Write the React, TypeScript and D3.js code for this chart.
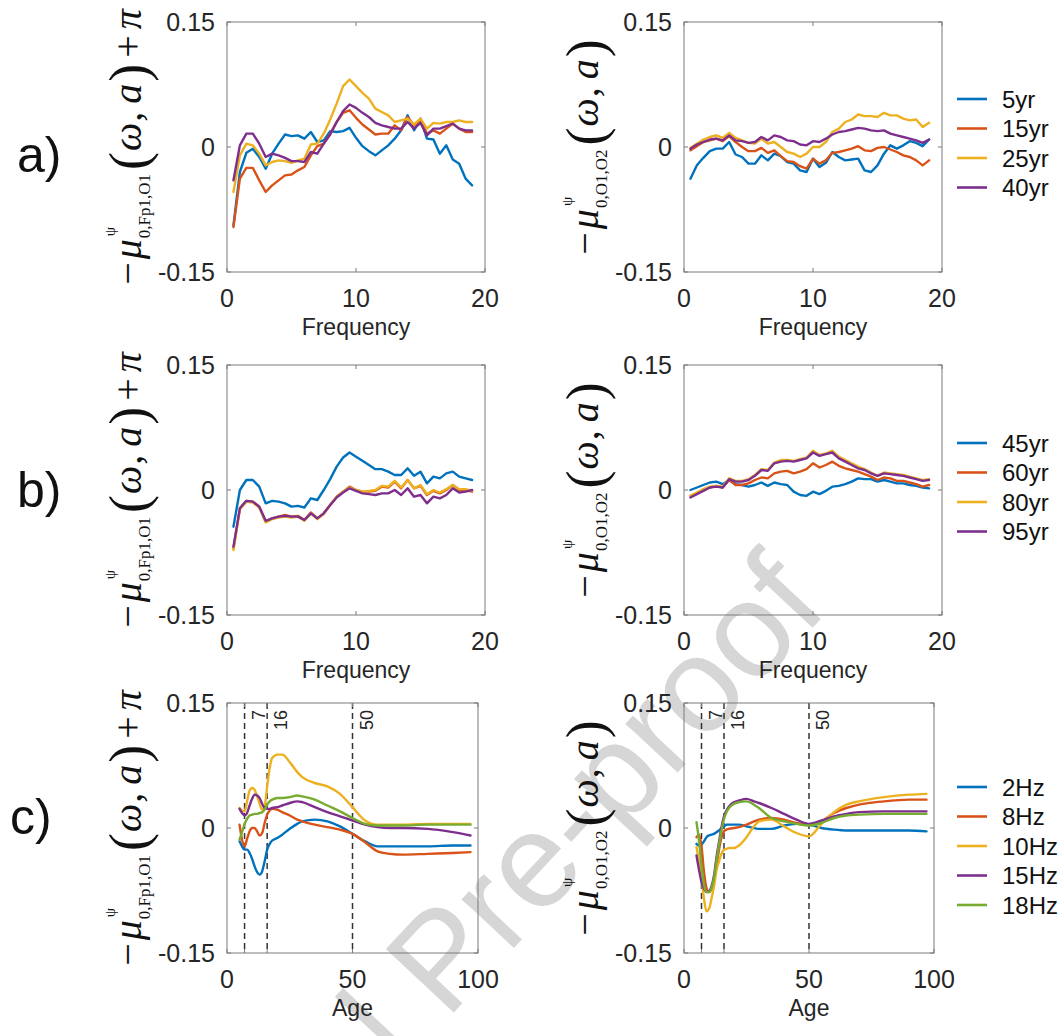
import React, { useEffect, useRef } from "react";
import * as d3 from "d3";

const W = 1063;
const H = 1036;
const COLORS = ["#0072BD", "#D95319", "#EDB120", "#7E2F8E", "#77AC30"];
const SANS = "'Liberation Sans', Arial, Helvetica, sans-serif";
const SERIF = "'Liberation Serif', 'Times New Roman', 'DejaVu Serif', serif";

// ---------- data ----------
const freq = [0.5, 1, 1.5, 2, 2.5, 3, 3.5, 4, 4.5, 5, 5.5, 6, 6.5, 7, 7.5, 8, 8.5, 9, 9.5, 10, 10.5, 11, 11.5, 12, 12.5, 13, 13.5, 14, 14.5, 15, 15.5, 16, 16.5, 17, 17.5, 18, 18.5, 19];
const ages = [5, 6, 7, 8, 9, 10, 11, 12, 13, 14, 15, 16, 17, 18, 20, 22, 25, 28, 30, 35, 40, 45, 50, 55, 60, 65, 70, 80, 90, 97];

// a) Fp1,O1
const aFp5 = [-0.094, -0.03, -0.007, -0.002, -0.012, -0.026, -0.008, 0.004, 0.015, 0.013, 0.014, 0.01, 0.018, 0.006, 0.008, 0.019, 0.018, 0.019, 0.023, 0.011, 0.001, -0.005, -0.01, -0.004, 0.002, 0.01, 0.02, 0.038, 0.02, 0.034, 0.01, 0.009, -0.008, 0.002, -0.015, -0.02, -0.038, -0.046];
const aFp15 = [-0.096, -0.038, -0.025, -0.025, -0.04, -0.054, -0.046, -0.04, -0.034, -0.033, -0.028, -0.024, -0.01, 0.001, 0.004, 0.016, 0.03, 0.041, 0.044, 0.035, 0.027, 0.021, 0.015, 0.016, 0.016, 0.026, 0.02, 0.036, 0.026, 0.032, 0.016, 0.02, 0.016, 0.022, 0.028, 0.022, 0.018, 0.018];
const aFp25 = [-0.054, -0.01, 0.004, 0.002, -0.008, -0.022, -0.018, -0.016, -0.017, -0.019, -0.016, -0.014, 0.003, 0.004, 0.016, 0.033, 0.052, 0.073, 0.081, 0.073, 0.065, 0.058, 0.046, 0.042, 0.038, 0.03, 0.032, 0.034, 0.027, 0.034, 0.022, 0.029, 0.028, 0.03, 0.03, 0.032, 0.03, 0.03];
const aFp40 = [-0.04, 0.002, 0.016, 0.016, 0.004, -0.012, -0.008, -0.01, -0.013, -0.017, -0.017, -0.018, -0.006, -0.008, 0.004, 0.015, 0.03, 0.043, 0.051, 0.047, 0.041, 0.036, 0.029, 0.026, 0.024, 0.022, 0.022, 0.03, 0.022, 0.029, 0.014, 0.022, 0.022, 0.025, 0.028, 0.022, 0.02, 0.02];
// a) O1,O2
const aO5 = [-0.038, -0.022, -0.013, -0.005, -0.002, -0.002, 0.006, -0.009, -0.012, -0.02, -0.02, -0.01, -0.016, -0.008, -0.011, -0.018, -0.02, -0.028, -0.03, -0.014, -0.024, -0.019, -0.006, -0.012, -0.016, -0.015, -0.014, -0.028, -0.03, -0.022, -0.008, 0.002, -0.002, 0.002, 0.007, 0.005, 0.001, 0.009];
const aO15 = [-0.004, 0.001, 0.006, 0.008, 0.01, 0.007, 0.013, 0.006, 0, -0.005, -0.005, -0.001, -0.007, -0.004, -0.011, -0.017, -0.018, -0.023, -0.026, -0.014, -0.02, -0.016, -0.007, -0.006, -0.004, -0.002, 0.001, -0.004, -0.005, -0.001, 0, -0.003, -0.006, -0.01, -0.012, -0.016, -0.022, -0.016];
const aO25 = [-0.001, 0.004, 0.009, 0.012, 0.014, 0.011, 0.017, 0.011, 0.008, 0.005, 0.004, 0.01, 0.004, 0.006, 0, -0.006, -0.008, -0.012, -0.008, 0, 0, 0.006, 0.018, 0.022, 0.03, 0.033, 0.039, 0.037, 0.037, 0.036, 0.041, 0.038, 0.038, 0.034, 0.032, 0.033, 0.024, 0.029];
const aO40 = [-0.002, 0.003, 0.006, 0.009, 0.01, 0.008, 0.014, 0.008, 0.007, 0.005, 0.006, 0.012, 0.008, 0.014, 0.012, 0.008, 0.007, 0.003, 0.002, 0.007, 0.006, 0.01, 0.015, 0.018, 0.019, 0.021, 0.023, 0.022, 0.02, 0.019, 0.02, 0.016, 0.014, 0.012, 0.01, 0.008, 0.005, 0.009];
// b) Fp1,O1
const bFp45 = [-0.044, 0, 0.012, 0.012, 0.004, -0.016, -0.013, -0.014, -0.016, -0.02, -0.019, -0.021, -0.01, -0.012, 0, 0.013, 0.028, 0.039, 0.045, 0.04, 0.035, 0.03, 0.025, 0.025, 0.022, 0.018, 0.018, 0.026, 0.017, 0.022, 0.008, 0.016, 0.014, 0.02, 0.022, 0.016, 0.014, 0.012];
const bFp60 = [-0.07, -0.022, -0.013, -0.014, -0.02, -0.038, -0.034, -0.032, -0.03, -0.032, -0.031, -0.036, -0.027, -0.034, -0.028, -0.018, -0.008, -0.002, 0.004, 0, -0.002, -0.002, -0.001, 0.004, 0.003, 0.01, 0.002, 0.012, 0.002, 0.005, -0.006, -0.001, -0.004, 0, 0.006, 0, 0, -0.002];
const bFp80 = [-0.072, -0.023, -0.014, -0.015, -0.021, -0.039, -0.035, -0.033, -0.032, -0.033, -0.032, -0.037, -0.028, -0.035, -0.029, -0.018, -0.008, -0.002, 0.003, 0, -0.002, -0.001, 0, 0.005, 0.004, 0.011, 0.003, 0.012, 0.002, 0.006, -0.005, 0, -0.003, 0.001, 0.006, 0.001, 0.001, -0.001];
const bFp95 = [-0.068, -0.022, -0.013, -0.014, -0.02, -0.037, -0.034, -0.032, -0.031, -0.032, -0.032, -0.036, -0.028, -0.034, -0.028, -0.018, -0.009, -0.003, 0.002, -0.001, -0.004, -0.005, -0.006, -0.004, -0.004, 0, -0.006, 0.002, -0.008, -0.006, -0.016, -0.008, -0.01, -0.006, 0.002, -0.003, -0.002, 0];
// b) O1,O2
const bO45 = [0, 0.003, 0.006, 0.009, 0.01, 0.007, 0.012, 0.007, 0.006, 0.004, 0.006, 0.009, 0.005, 0.009, 0.007, 0.006, -0.002, -0.006, -0.007, -0.002, -0.005, -0.001, 0.004, 0.005, 0.007, 0.01, 0.014, 0.013, 0.013, 0.01, 0.012, 0.01, 0.008, 0.008, 0.006, 0.005, 0.003, 0.002];
const bO60 = [-0.007, -0.004, 0, 0.003, 0.005, 0.003, 0.012, 0.006, 0.006, 0.008, 0.012, 0.015, 0.014, 0.02, 0.022, 0.023, 0.02, 0.022, 0.025, 0.032, 0.027, 0.03, 0.034, 0.029, 0.026, 0.024, 0.022, 0.019, 0.016, 0.012, 0.015, 0.014, 0.011, 0.011, 0.009, 0.007, 0.004, 0.006];
const bO80 = [-0.007, -0.003, 0.001, 0.004, 0.005, 0.004, 0.014, 0.011, 0.011, 0.013, 0.018, 0.025, 0.024, 0.033, 0.036, 0.036, 0.035, 0.037, 0.039, 0.047, 0.042, 0.044, 0.047, 0.04, 0.036, 0.032, 0.028, 0.025, 0.021, 0.017, 0.021, 0.02, 0.019, 0.018, 0.016, 0.014, 0.012, 0.013];
const bO95 = [-0.009, -0.005, -0.001, 0.003, 0.004, 0.003, 0.013, 0.01, 0.01, 0.012, 0.017, 0.024, 0.023, 0.032, 0.034, 0.035, 0.034, 0.036, 0.038, 0.045, 0.041, 0.043, 0.045, 0.038, 0.034, 0.03, 0.026, 0.024, 0.02, 0.017, 0.02, 0.019, 0.018, 0.017, 0.015, 0.013, 0.011, 0.012];
// c) Fp1,O1 vs age
const cFp2 = [-0.016, -0.022, -0.026, -0.026, -0.03, -0.037, -0.046, -0.053, -0.056, -0.052, -0.04, -0.026, -0.019, -0.015, -0.012, -0.008, -0.001, 0.005, 0.008, 0.01, 0.008, 0.002, -0.007, -0.016, -0.022, -0.022, -0.022, -0.022, -0.021, -0.021];
const cFp8 = [0.004, -0.014, -0.022, -0.013, -0.004, 0, 0, -0.004, -0.009, -0.006, 0.006, 0.016, 0.021, 0.023, 0.022, 0.019, 0.015, 0.01, 0.008, 0.004, 0.001, -0.002, -0.007, -0.017, -0.028, -0.031, -0.032, -0.031, -0.03, -0.029];
const cFp10 = [0.024, 0.021, 0.02, 0.032, 0.045, 0.048, 0.046, 0.038, 0.029, 0.022, 0.026, 0.05, 0.072, 0.084, 0.088, 0.088, 0.079, 0.067, 0.061, 0.054, 0.05, 0.041, 0.025, 0.009, 0.004, 0.004, 0.004, 0.005, 0.005, 0.005];
const cFp15 = [0.023, 0.018, 0.015, 0.018, 0.027, 0.035, 0.04, 0.039, 0.036, 0.029, 0.024, 0.023, 0.023, 0.024, 0.025, 0.027, 0.03, 0.032, 0.031, 0.025, 0.019, 0.014, 0.009, 0.004, 0.001, 0, 0, -0.001, -0.005, -0.009];
const cFp18 = [-0.014, -0.005, 0.005, 0.011, 0.015, 0.016, 0.017, 0.017, 0.018, 0.019, 0.022, 0.028, 0.032, 0.034, 0.036, 0.036, 0.037, 0.039, 0.038, 0.034, 0.027, 0.02, 0.012, 0.005, 0.003, 0.003, 0.003, 0.004, 0.004, 0.004];
// c) O1,O2 vs age
const cO2 = [-0.019, -0.021, -0.02, -0.016, -0.011, -0.009, -0.008, -0.007, -0.005, -0.003, 0, 0.002, 0.004, 0.004, 0.004, 0.004, 0.002, 0, -0.001, -0.001, 0.003, 0.005, 0.004, 0, -0.002, -0.003, -0.003, -0.003, -0.003, -0.004];
const cO8 = [-0.011, -0.008, -0.022, -0.053, -0.072, -0.077, -0.073, -0.062, -0.045, -0.026, -0.011, -0.004, -0.002, -0.001, 0, 0.001, 0.004, 0.008, 0.01, 0.012, 0.01, 0.006, 0.004, 0.008, 0.018, 0.024, 0.028, 0.032, 0.034, 0.034];
const cO10 = [-0.023, -0.04, -0.059, -0.085, -0.1, -0.097, -0.085, -0.07, -0.051, -0.04, -0.031, -0.026, -0.025, -0.024, -0.024, -0.021, -0.011, 0.002, 0.008, 0.01, 0.002, -0.006, -0.01, 0.005, 0.019, 0.028, 0.032, 0.037, 0.04, 0.041];
const cO15 = [-0.033, -0.05, -0.065, -0.073, -0.077, -0.076, -0.07, -0.057, -0.035, -0.017, 0.001, 0.014, 0.021, 0.026, 0.031, 0.033, 0.035, 0.032, 0.03, 0.024, 0.017, 0.01, 0.005, 0.009, 0.014, 0.017, 0.019, 0.02, 0.02, 0.02];
const cO18 = [0.007, -0.015, -0.045, -0.068, -0.077, -0.077, -0.072, -0.06, -0.039, -0.02, -0.003, 0.011, 0.019, 0.024, 0.029, 0.031, 0.032, 0.028, 0.024, 0.012, 0.008, 0.005, 0.003, 0.006, 0.012, 0.015, 0.016, 0.017, 0.017, 0.017];

const legendA = ["5yr", "15yr", "25yr", "40yr"];
const legendB = ["45yr", "60yr", "80yr", "95yr"];
const legendC = ["2Hz", "8Hz", "10Hz", "15Hz", "18Hz"];
const yTicks = [-0.15, 0, 0.15];
const yTickLabels = ["-0.15", "0", "0.15"];
const freqTicks = [0, 10, 20];
const freqTickLabels = ["0", "10", "20"];
const ageTickMarks = [0, 7, 16, 50, 100];
const ageTickLabels = [0, 50, 100];
const ageMarkers = [7, 16, 50];
const panelLetters = ["a)", "b)", "c)"];

// ---------- layout ----------
type Panel = {
  left: number; right: number; top: number; bottom: number;
  xDomain: [number, number]; xVals: number[]; series: number[][];
  xTickMarks: number[]; xTickLabels: number[]; xTickText: string[];
  xLabel: string; sub: string; withPi: boolean; smooth: boolean; markers?: number[];
};

const ROWS = [
  { top: 22, bottom: 272 },
  { top: 365, bottom: 615 },
  { top: 703, bottom: 953 },
];

const panels: Panel[] = [
  { left: 227, right: 485, ...ROWS[0], xDomain: [0, 20], xVals: freq, series: [aFp5, aFp15, aFp25, aFp40], xTickMarks: freqTicks, xTickLabels: freqTicks, xTickText: freqTickLabels, xLabel: "Frequency", sub: "0,Fp1,O1", withPi: true, smooth: false },
  { left: 684, right: 942, ...ROWS[0], xDomain: [0, 20], xVals: freq, series: [aO5, aO15, aO25, aO40], xTickMarks: freqTicks, xTickLabels: freqTicks, xTickText: freqTickLabels, xLabel: "Frequency", sub: "0,O1,O2", withPi: false, smooth: false },
  { left: 227, right: 485, ...ROWS[1], xDomain: [0, 20], xVals: freq, series: [bFp45, bFp60, bFp80, bFp95], xTickMarks: freqTicks, xTickLabels: freqTicks, xTickText: freqTickLabels, xLabel: "Frequency", sub: "0,Fp1,O1", withPi: true, smooth: false },
  { left: 684, right: 942, ...ROWS[1], xDomain: [0, 20], xVals: freq, series: [bO45, bO60, bO80, bO95], xTickMarks: freqTicks, xTickLabels: freqTicks, xTickText: freqTickLabels, xLabel: "Frequency", sub: "0,O1,O2", withPi: false, smooth: false },
  { left: 227, right: 478, ...ROWS[2], xDomain: [0, 100], xVals: ages, series: [cFp2, cFp8, cFp10, cFp15, cFp18], xTickMarks: ageTickMarks, xTickLabels: ageTickLabels, xTickText: ageTickLabels.map(String), xLabel: "Age", sub: "0,Fp1,O1", withPi: true, smooth: true, markers: ageMarkers },
  { left: 684, right: 934, ...ROWS[2], xDomain: [0, 100], xVals: ages, series: [cO2, cO8, cO10, cO15, cO18], xTickMarks: ageTickMarks, xTickLabels: ageTickLabels, xTickText: ageTickLabels.map(String), xLabel: "Age", sub: "0,O1,O2", withPi: false, smooth: true, markers: ageMarkers },
];

const legends = [
  { names: legendA, y0: 99 },
  { names: legendB, y0: 443 },
  { names: legendC, y0: 787 },
];

const letterPos = [
  { x: 17, y: 172 },
  { x: 17, y: 507 },
  { x: 10, y: 834 },
];

function mathLabel(svg: any, bx: number, cy: number, sub: string, withPi: boolean) {
  const grp = svg.append("g").attr("transform", `translate(${bx},${cy}) rotate(-90)`);
  const inner = grp.append("g");
  const F = 40;
  let x = 0;
  const add = (txt: string, size: number, italic: boolean, dy = 0, at = x) =>
    inner.append("text").attr("x", at).attr("y", dy).attr("font-size", size)
      .attr("font-style", italic ? "italic" : "normal").attr("font-family", SERIF)
      .attr("fill", "#111").text(txt);
  const w = (t: any) => (t.node() as SVGTextElement).getComputedTextLength();
  let t = add("\u2212", F, false); x += w(t) + 3;
  t = add("\u03bc", F, true); x += w(t) + 1;
  const sup = add("\u03c8", 15, false, -26, x + 2);
  const sb = add(sub, 17, false, 9, x);
  x += Math.max(w(sup) + 2, w(sb)) + 4;
  t = add("(", 54, false, 6); x += w(t) + 1;
  t = add("\u03c9", F, true); x += w(t) + 1;
  t = add(",", F, false); x += w(t) + 8;
  t = add("a", F, true); x += w(t) + 2;
  t = add(")", 54, false, 6); x += w(t);
  if (withPi) {
    x += 6;
    t = add("+", F, false); x += w(t) + 6;
    t = add("\u03c0", F, true); x += w(t);
  }
  inner.attr("transform", `translate(${-x / 2},0)`);
}

function drawPanel(svg: any, p: Panel) {
  const x = d3.scaleLinear().domain(p.xDomain).range([p.left, p.right]);
  const y = d3.scaleLinear().domain([-0.15, 0.15]).range([p.bottom, p.top]);
  const g = svg.append("g");
  if (p.markers) {
    p.markers.forEach((m) => {
      g.append("line").attr("x1", x(m)).attr("x2", x(m)).attr("y1", p.top).attr("y2", p.bottom)
        .attr("stroke", "#333").attr("stroke-width", 1.5).attr("stroke-dasharray", "6,4");
      g.append("text").attr("transform", `translate(${x(m) + 20},${p.top + 7}) rotate(-90)`)
        .attr("text-anchor", "end").attr("font-size", 18).attr("font-family", SANS).attr("fill", "#262626").text(String(m));
    });
  }
  const line = d3.line<number>()
    .x((_d, i) => x(p.xVals[i]))
    .y((d) => y(d))
    .curve(p.smooth ? d3.curveMonotoneX : d3.curveLinear);
  p.series.forEach((s, i) => {
    g.append("path").attr("d", line(s)).attr("fill", "none").attr("stroke", COLORS[i])
      .attr("stroke-width", 2.4).attr("stroke-linejoin", "round").attr("stroke-linecap", "round");
  });
  g.append("rect").attr("x", p.left).attr("y", p.top).attr("width", p.right - p.left).attr("height", p.bottom - p.top)
    .attr("fill", "none").attr("stroke", "#7a7a7a").attr("stroke-width", 1);
  const tl = 4;
  p.xTickMarks.forEach((v) => {
    g.append("line").attr("x1", x(v)).attr("x2", x(v)).attr("y1", p.bottom).attr("y2", p.bottom - tl).attr("stroke", "#7a7a7a");
    g.append("line").attr("x1", x(v)).attr("x2", x(v)).attr("y1", p.top).attr("y2", p.top + tl).attr("stroke", "#7a7a7a");
  });
  yTicks.forEach((v) => {
    g.append("line").attr("x1", p.left).attr("x2", p.left + tl).attr("y1", y(v)).attr("y2", y(v)).attr("stroke", "#7a7a7a");
    g.append("line").attr("x1", p.right).attr("x2", p.right - tl).attr("y1", y(v)).attr("y2", y(v)).attr("stroke", "#7a7a7a");
  });
  p.xTickLabels.forEach((v, i) => {
    g.append("text").attr("x", x(v)).attr("y", p.bottom + 35).attr("text-anchor", "middle")
      .attr("font-size", 25).attr("font-family", SANS).attr("fill", "#262626").text(p.xTickText[i]);
  });
  yTicks.forEach((v, i) => {
    g.append("text").attr("x", p.left - 12).attr("y", y(v) + 9).attr("text-anchor", "end")
      .attr("font-size", 25).attr("font-family", SANS).attr("fill", "#262626").text(yTickLabels[i]);
  });
  g.append("text").attr("x", (p.left + p.right) / 2).attr("y", p.bottom + 63).attr("text-anchor", "middle")
    .attr("font-size", 23).attr("font-family", SANS).attr("fill", "#262626").text(p.xLabel);
  mathLabel(g, p.left - 86, (p.top + p.bottom) / 2, p.sub, p.withPi);
}

export default function App() {
  const ref = useRef<SVGSVGElement>(null);
  useEffect(() => {
    const svg = d3.select(ref.current);
    svg.selectAll("*").remove();
    // watermark
    svg.append("text").attr("transform", "translate(830,609) rotate(-47)").attr("text-anchor", "end")
      .attr("font-size", 135).attr("font-family", SANS).attr("fill", "#d6d6d6").text("Journal Pre-proof");
    panels.forEach((p) => drawPanel(svg, p));
    legends.forEach((lg) => {
      lg.names.forEach((n, i) => {
        const yy = lg.y0 + i * 29.5;
        svg.append("line").attr("x1", 957).attr("x2", 987).attr("y1", yy).attr("y2", yy)
          .attr("stroke", COLORS[i]).attr("stroke-width", 2.6);
        svg.append("text").attr("x", 1002).attr("y", yy + 8.5).attr("font-size", 24)
          .attr("font-family", SANS).attr("fill", "#111").text(n);
      });
    });
    panelLetters.forEach((l, i) => {
      svg.append("text").attr("x", letterPos[i].x).attr("y", letterPos[i].y).attr("font-size", 50)
        .attr("font-family", SANS).attr("fill", "#111").text(l);
    });
  }, []);
  return (
    <svg ref={ref} width={W} height={H}
      style={{ position: "absolute", left: 0, top: 0, background: "#fff" }} />
  );
}
